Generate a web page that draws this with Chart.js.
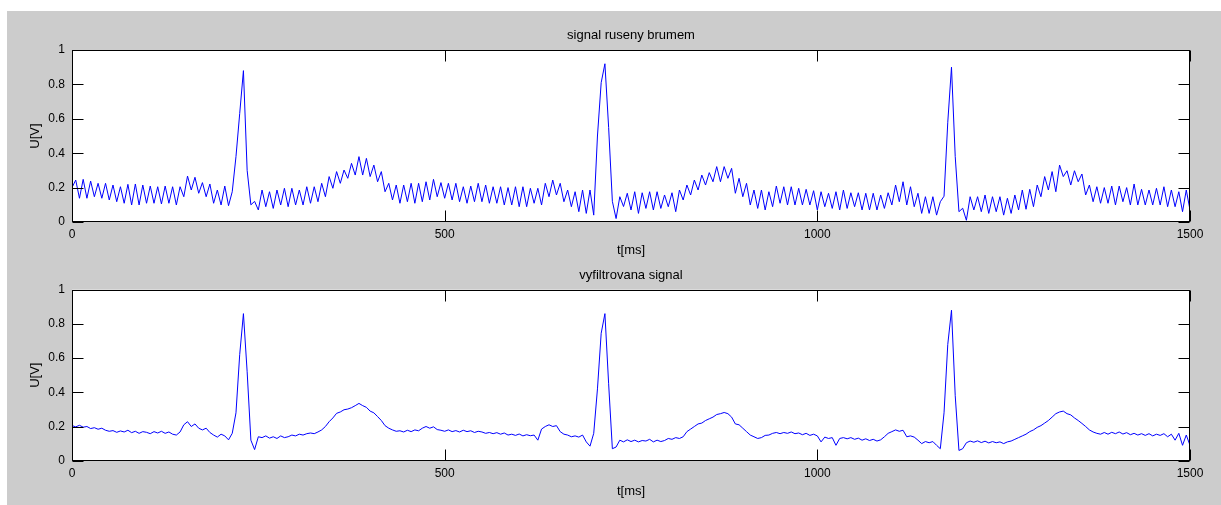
<!DOCTYPE html>
<html>
<head>
<meta charset="utf-8">
<script src="https://cdn.jsdelivr.net/npm/chart.js@4.4.1/dist/chart.umd.min.js"></script>
<style>
  html, body { margin: 0; padding: 0; background: #ffffff; }
  #figure { position: absolute; left: 7px; top: 11px; right: 0; bottom: 0; background: #cccccc; }
  canvas { position: absolute; left: 0; }
  #noisyCanvas { top: 0; }
  #filteredCanvas { top: 262px; }
</style>
</head>
<body>
<div id="figure"></div>
<canvas id="noisyCanvas" width="1221" height="262"></canvas>
<canvas id="filteredCanvas" width="1221" height="243"></canvas>
<script>
// Sampling step of both signals, in ms
const STEP_MS = 5;

// ECG with mains hum, one row = 50 ms
const noisySignal = [
  0.20, 0.244, 0.138, 0.248, 0.138, 0.238, 0.147, 0.225, 0.138, 0.225,
  0.128, 0.215, 0.118, 0.205, 0.109, 0.219, 0.099, 0.221, 0.099, 0.215,
  0.109, 0.209, 0.109, 0.205, 0.105, 0.209, 0.109, 0.205, 0.099, 0.205,
  0.147, 0.267, 0.186, 0.26, 0.167, 0.229, 0.147, 0.221, 0.109, 0.186,
  0.099, 0.209, 0.095, 0.176, 0.38, 0.63, 0.88, 0.30, 0.10, 0.12,
  0.07, 0.186, 0.089, 0.176, 0.079, 0.186, 0.099, 0.196, 0.089, 0.196,
  0.099, 0.186, 0.099, 0.205, 0.109, 0.205, 0.118, 0.225, 0.147, 0.264,
  0.196, 0.293, 0.225, 0.302, 0.254, 0.341, 0.273, 0.38, 0.273, 0.37,
  0.264, 0.331, 0.234, 0.293, 0.176, 0.225, 0.128, 0.215, 0.109, 0.215,
  0.118, 0.225, 0.109, 0.225, 0.118, 0.234, 0.128, 0.248, 0.147, 0.229,
  0.138, 0.225, 0.128, 0.225, 0.118, 0.205, 0.109, 0.209, 0.118, 0.225,
  0.118, 0.215, 0.109, 0.205, 0.109, 0.205, 0.099, 0.2, 0.099, 0.205,
  0.089, 0.205, 0.089, 0.196, 0.109, 0.196, 0.099, 0.225, 0.147, 0.244,
  0.157, 0.225, 0.118, 0.186, 0.089, 0.176, 0.06, 0.186, 0.05, 0.186,
  0.04, 0.50, 0.81, 0.92, 0.55, 0.12, 0.02, 0.147, 0.09, 0.167,
  0.07, 0.176, 0.05, 0.17, 0.079, 0.176, 0.07, 0.176, 0.079, 0.157,
  0.089, 0.17, 0.06, 0.186, 0.128, 0.215, 0.157, 0.244, 0.186, 0.273,
  0.215, 0.287, 0.234, 0.322, 0.234, 0.322, 0.254, 0.312, 0.167, 0.254,
  0.147, 0.225, 0.099, 0.186, 0.079, 0.186, 0.07, 0.176, 0.089, 0.209,
  0.109, 0.205, 0.099, 0.205, 0.099, 0.196, 0.099, 0.19, 0.099, 0.182,
  0.07, 0.176, 0.089, 0.167, 0.079, 0.176, 0.07, 0.186, 0.079, 0.17,
  0.089, 0.17, 0.07, 0.167, 0.07, 0.167, 0.07, 0.157, 0.079, 0.17,
  0.099, 0.215, 0.118, 0.234, 0.099, 0.205, 0.089, 0.167, 0.05, 0.147,
  0.05, 0.147, 0.04, 0.118, 0.15, 0.58, 0.90, 0.38, 0.06, 0.08,
  0.01, 0.147, 0.07, 0.147, 0.06, 0.157, 0.05, 0.147, 0.06, 0.147,
  0.04, 0.138, 0.05, 0.157, 0.07, 0.186, 0.074, 0.19, 0.089, 0.215,
  0.147, 0.264, 0.186, 0.293, 0.176, 0.331, 0.264, 0.298, 0.215, 0.298,
  0.234, 0.279, 0.157, 0.215, 0.118, 0.205, 0.109, 0.2, 0.109, 0.209,
  0.099, 0.209, 0.118, 0.2, 0.099, 0.221, 0.099, 0.19, 0.099, 0.186,
  0.099, 0.196, 0.099, 0.205, 0.089, 0.186, 0.089, 0.176, 0.06, 0.186,
  0.07
];

// Same signal after the notch filter
const filteredSignal = [
  0.205, 0.198, 0.207, 0.196, 0.2, 0.188, 0.193, 0.184, 0.19, 0.178,
  0.172, 0.176, 0.166, 0.174, 0.168, 0.178, 0.164, 0.172, 0.16, 0.17,
  0.166, 0.158, 0.17, 0.162, 0.172, 0.16, 0.168, 0.155, 0.15, 0.168,
  0.21, 0.228, 0.2, 0.215, 0.19, 0.18, 0.19, 0.165, 0.15, 0.138,
  0.155, 0.145, 0.122, 0.16, 0.28, 0.62, 0.86, 0.52, 0.12, 0.065,
  0.14, 0.135, 0.145, 0.132, 0.14, 0.13, 0.145, 0.135, 0.14, 0.15,
  0.145, 0.155, 0.15, 0.158, 0.162, 0.158, 0.168, 0.18, 0.2, 0.228,
  0.25, 0.277, 0.285, 0.298, 0.302, 0.31, 0.322, 0.335, 0.322, 0.312,
  0.29, 0.28, 0.258, 0.235, 0.205, 0.19, 0.18, 0.172, 0.175, 0.168,
  0.178, 0.17, 0.18, 0.175, 0.19, 0.2, 0.19, 0.198, 0.182, 0.178,
  0.172, 0.18, 0.17, 0.176, 0.168, 0.178, 0.17, 0.175, 0.165, 0.172,
  0.168, 0.16, 0.165, 0.158, 0.164, 0.155, 0.162, 0.15, 0.155, 0.148,
  0.156, 0.145, 0.152, 0.146, 0.15, 0.12, 0.185, 0.2, 0.21, 0.2,
  0.205, 0.17, 0.155, 0.15, 0.14, 0.145, 0.138, 0.15, 0.11, 0.085,
  0.16, 0.42, 0.745, 0.86, 0.45, 0.07, 0.08, 0.12, 0.11, 0.122,
  0.112, 0.12, 0.11, 0.118, 0.115, 0.125, 0.11, 0.12, 0.112, 0.118,
  0.13, 0.125, 0.135, 0.13, 0.14, 0.17, 0.185, 0.2, 0.215, 0.22,
  0.235, 0.245, 0.255, 0.27, 0.275, 0.282, 0.275, 0.255, 0.215, 0.21,
  0.19, 0.17, 0.15, 0.14, 0.13, 0.135, 0.148, 0.15, 0.16, 0.165,
  0.158, 0.165, 0.16, 0.168, 0.158, 0.162, 0.152, 0.16, 0.148, 0.155,
  0.145, 0.11, 0.138, 0.13, 0.135, 0.09, 0.13, 0.135, 0.128, 0.135,
  0.125, 0.132, 0.12, 0.128, 0.118, 0.125, 0.115, 0.122, 0.14, 0.16,
  0.17, 0.18, 0.172, 0.178, 0.14, 0.145, 0.138, 0.12, 0.1, 0.112,
  0.105, 0.112, 0.09, 0.07, 0.28, 0.68, 0.88, 0.38, 0.06, 0.07,
  0.105, 0.115, 0.108, 0.116, 0.106, 0.114, 0.104, 0.112, 0.105, 0.11,
  0.1, 0.11, 0.115, 0.125, 0.135, 0.145, 0.155, 0.17, 0.18, 0.195,
  0.205, 0.22, 0.235, 0.255, 0.275, 0.285, 0.29, 0.275, 0.268, 0.25,
  0.235, 0.218, 0.2, 0.18, 0.168, 0.16, 0.155, 0.165, 0.155, 0.166,
  0.158, 0.168, 0.156, 0.164, 0.152, 0.16, 0.15, 0.158, 0.148, 0.158,
  0.145, 0.155, 0.148, 0.158, 0.14, 0.155, 0.12, 0.16, 0.09, 0.15,
  0.09
];

const xTicks = [0, 500, 1000, 1500];
const yTicks = [0, 0.2, 0.4, 0.6, 0.8, 1];

const FONT = 'Liberation Sans, Arial, Helvetica, sans-serif';

// white plot box, black frame and inward ticks (matlab axes look)
const matlabAxes = {
  id: 'matlabAxes',
  beforeDraw(chart) {
    const a = chart.chartArea;
    const ctx = chart.ctx;
    ctx.save();
    ctx.fillStyle = '#ffffff';
    ctx.fillRect(a.left, a.top, a.right - a.left, a.bottom - a.top);
    ctx.restore();
  },
  afterDraw(chart) {
    const a = chart.chartArea;
    const ctx = chart.ctx;
    const len = 11;
    const L = Math.round(a.left) + 0.5, R = Math.round(a.right) - 0.5;
    const T = Math.round(a.top) + 0.5, B = Math.round(a.bottom) - 0.5;
    ctx.save();
    ctx.strokeStyle = '#000000';
    ctx.lineWidth = 1;
    ctx.beginPath();
    chart.scales.x.ticks.forEach(t => {
      const px = Math.round(chart.scales.x.getPixelForValue(t.value)) + 0.5;
      ctx.moveTo(px, B); ctx.lineTo(px, B - len);
      ctx.moveTo(px, T); ctx.lineTo(px, T + len);
    });
    chart.scales.y.ticks.forEach(t => {
      const py = Math.round(chart.scales.y.getPixelForValue(t.value)) + 0.5;
      ctx.moveTo(L, py); ctx.lineTo(L + len, py);
      ctx.moveTo(R, py); ctx.lineTo(R - len, py);
    });
    ctx.stroke();
    ctx.strokeRect(L, T, R - L, B - T);
    ctx.restore();
  }
};

function makePlot(canvasId, values, title, pads) {
  const points = values.map((v, i) => ({ x: i * STEP_MS, y: v }));
  return new Chart(document.getElementById(canvasId), {
    type: 'line',
    data: {
      datasets: [{
        data: points,
        borderColor: '#0000ff',
        borderWidth: 1,
        pointRadius: 0,
        tension: 0,
        fill: false
      }]
    },
    options: {
      responsive: false,
      animation: false,
      events: [],
      layout: { padding: { left: 0, right: 31, top: 0, bottom: 0 } },
      plugins: {
        legend: { display: false },
        tooltip: { enabled: false },
        title: {
          display: true,
          text: title,
          fullSize: false,
          color: '#000000',
          font: { family: FONT, size: 13, weight: 'normal' },
          padding: { top: pads.titleTop, bottom: pads.titleBottom }
        }
      },
      scales: {
        x: {
          type: 'linear',
          min: 0,
          max: 1500,
          afterBuildTicks: s => { s.ticks = xTicks.map(v => ({ value: v })); },
          afterFit: s => { s.height = pads.xHeight; },
          grid: { display: false, drawTicks: false },
          border: { display: false },
          ticks: {
            autoSkip: false,
            maxRotation: 0,
            padding: pads.xTickPad,
            color: '#000000',
            font: { family: FONT, size: 12 },
            callback: v => String(v)
          },
          title: {
            display: true,
            text: 't[ms]',
            color: '#000000',
            font: { family: FONT, size: 13 },
            padding: { top: 0, bottom: pads.xTitleBottom }
          }
        },
        y: {
          type: 'linear',
          min: 0,
          max: 1,
          afterBuildTicks: s => { s.ticks = yTicks.map(v => ({ value: v })); },
          afterFit: s => { s.width = 72; },
          grid: { display: false, drawTicks: false },
          border: { display: false },
          ticks: {
            autoSkip: false,
            padding: 7,
            color: '#000000',
            font: { family: FONT, size: 12 },
            callback: v => String(Math.round(v * 10) / 10)
          },
          title: {
            display: true,
            text: 'U[V]',
            color: '#000000',
            font: { family: FONT, size: 13 },
            padding: { top: 27.2, bottom: 0 }
          }
        }
      }
    },
    plugins: [matlabAxes]
  });
}

makePlot('noisyCanvas', noisySignal, 'signal ruseny brumem',
  { titleTop: 27.2, titleBottom: 7.2, xHeight: 40, xTickPad: 5, xTitleBottom: 4.2 });
makePlot('filteredCanvas', filteredSignal, 'vyfiltrovana signal',
  { titleTop: 5.2, titleBottom: 6.9, xHeight: 44.3, xTickPad: 6, xTitleBottom: 6.2 });
</script>
</body>
</html>
